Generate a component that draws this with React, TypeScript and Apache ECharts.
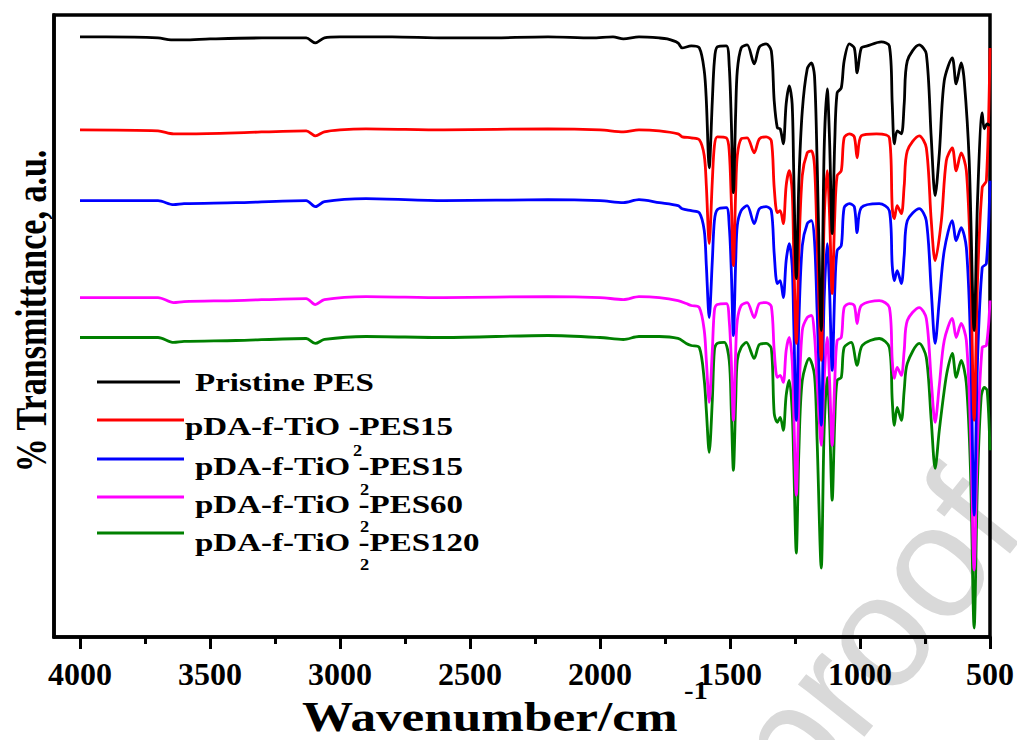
import React, { useEffect, useRef } from "react";
import * as echarts from "echarts";

// Wavenumber (cm^-1) vs % transmittance (a.u., offset-stacked spectra)
const pristinePES: [number, number][] = [
  [4000, 601], [3900, 601], [3700, 600], [3650, 598], [3600, 598], [3500, 599], [3300, 600], [3130, 600], [3095, 595], [3060, 600],
  [3000, 601], [2800, 601], [2600, 600], [2450, 600], [2200, 601], [2030, 600], [1950, 601], [1910, 599], [1850, 601], [1772, 600],
  [1741, 599], [1700, 595], [1684, 590], [1649, 592], [1618, 590], [1599, 567], [1591, 537], [1580, 470], [1568, 537], [1560, 577],
  [1549, 591], [1514, 592], [1503, 572], [1495, 517], [1487, 445], [1478, 527], [1472, 567], [1457, 590], [1434, 593], [1407, 574],
  [1387, 591], [1361, 594], [1341, 587], [1330, 537], [1318, 510], [1307, 509], [1295, 494], [1284, 534], [1272, 552], [1261, 534],
  [1255, 467], [1245, 359], [1235, 457], [1222, 527], [1203, 569], [1187, 575], [1175, 562], [1165, 477], [1149, 307], [1138, 487],
  [1126, 549], [1117, 497], [1107, 404], [1097, 497], [1088, 545], [1072, 550], [1061, 577], [1041, 594], [1022, 590], [1011, 565],
  [995, 590], [972, 592], [918, 596], [887, 592], [876, 534], [868, 494], [857, 507], [841, 504], [830, 534], [818, 577],
  [772, 593], [745, 584], [726, 500], [711, 442], [695, 484], [676, 557], [645, 580], [630, 554], [611, 575], [599, 557],
  [580, 477], [561, 307], [548, 437], [530, 525], [522, 509], [511, 514], [500, 512],
];

const pdaTiO2PES15a: [number, number][] = [
  [4000, 508], [3700, 507], [3640, 504], [3600, 504], [3400, 505], [3130, 507], [3095, 502], [3060, 506], [3000, 508], [2900, 509],
  [2600, 508], [2200, 509], [2000, 508], [1910, 506], [1850, 508], [1772, 507], [1700, 504], [1684, 501], [1649, 500], [1618, 498],
  [1599, 482], [1591, 452], [1580, 394], [1568, 457], [1560, 492], [1549, 501], [1514, 500], [1503, 487], [1495, 437], [1487, 372],
  [1478, 447], [1472, 482], [1457, 499], [1434, 500], [1407, 485], [1387, 499], [1361, 501], [1341, 497], [1330, 450], [1318, 425],
  [1307, 427], [1295, 414], [1284, 452], [1272, 467], [1261, 447], [1255, 387], [1245, 294], [1235, 387], [1222, 462], [1203, 485],
  [1187, 487], [1175, 472], [1165, 397], [1149, 277], [1138, 417], [1126, 467], [1117, 422], [1107, 344], [1097, 422], [1088, 462],
  [1072, 467], [1061, 500], [1041, 504], [1022, 501], [1011, 480], [995, 502], [937, 504], [887, 500], [876, 430], [868, 419],
  [857, 432], [841, 424], [830, 452], [818, 487], [772, 502], [745, 490], [726, 417], [711, 377], [687, 417], [668, 477],
  [645, 490], [630, 467], [611, 485], [591, 467], [575, 377], [561, 217], [548, 357], [530, 450], [514, 457], [500, 590],
];

const pdaTiO2PES15b: [number, number][] = [
  [4000, 437], [3700, 437], [3640, 433], [3600, 434], [3400, 435], [3130, 437], [3095, 431], [3060, 436], [2900, 439], [2600, 437],
  [2200, 438], [2000, 437], [1910, 435], [1850, 438], [1772, 435], [1700, 432], [1684, 429], [1649, 427], [1618, 425], [1599, 407],
  [1591, 372], [1580, 320], [1568, 377], [1560, 417], [1549, 428], [1514, 430], [1503, 412], [1495, 367], [1487, 302], [1478, 377],
  [1472, 412], [1457, 427], [1434, 432], [1407, 414], [1387, 429], [1361, 431], [1341, 427], [1330, 384], [1318, 354], [1307, 357],
  [1295, 340], [1284, 377], [1272, 394], [1261, 372], [1255, 317], [1245, 217], [1235, 317], [1222, 392], [1203, 414], [1187, 417],
  [1175, 397], [1165, 327], [1149, 212], [1138, 337], [1126, 394], [1117, 347], [1107, 267], [1097, 347], [1088, 387], [1072, 392],
  [1061, 430], [1041, 434], [1022, 431], [1011, 405], [995, 430], [926, 434], [887, 427], [876, 372], [868, 357], [857, 367],
  [841, 354], [830, 382], [818, 417], [772, 429], [745, 417], [726, 347], [711, 294], [695, 337], [676, 387], [645, 417],
  [630, 397], [611, 410], [591, 390], [575, 297], [561, 122], [548, 277], [530, 370], [514, 374], [500, 457],
];

const pdaTiO2PES60: [number, number][] = [
  [4000, 340], [3700, 340], [3640, 335], [3600, 336], [3400, 337], [3130, 339], [3095, 333], [3060, 338], [2900, 341], [2600, 340],
  [2200, 341], [2000, 340], [1910, 338], [1850, 341], [1772, 340], [1700, 337], [1668, 334], [1649, 332], [1618, 330], [1599, 307],
  [1591, 277], [1580, 235], [1568, 287], [1560, 327], [1549, 333], [1514, 334], [1503, 317], [1495, 277], [1487, 217], [1478, 287],
  [1472, 317], [1457, 332], [1434, 335], [1407, 320], [1387, 334], [1361, 335], [1341, 331], [1330, 287], [1318, 260], [1307, 262],
  [1295, 255], [1284, 287], [1272, 300], [1261, 277], [1255, 227], [1245, 142], [1235, 237], [1222, 307], [1203, 320], [1187, 322],
  [1175, 302], [1165, 257], [1149, 192], [1138, 257], [1126, 300], [1117, 257], [1107, 192], [1097, 257], [1088, 297], [1072, 300],
  [1061, 330], [1041, 334], [1022, 332], [1011, 314], [995, 332], [926, 337], [887, 330], [876, 277], [868, 259], [857, 270],
  [841, 262], [830, 287], [818, 317], [772, 330], [745, 319], [726, 257], [711, 215], [695, 252], [676, 297], [645, 319],
  [630, 300], [611, 314], [591, 297], [575, 207], [561, 67], [548, 197], [530, 290], [514, 292], [500, 337],
];

const pdaTiO2PES120: [number, number][] = [
  [4000, 300], [3700, 300], [3640, 295], [3600, 296], [3400, 297], [3130, 299], [3095, 294], [3060, 298], [2900, 301], [2600, 300],
  [2200, 302], [2000, 300], [1910, 298], [1850, 301], [1772, 301], [1700, 299], [1668, 294], [1649, 292], [1618, 290], [1599, 257],
  [1591, 227], [1580, 185], [1568, 237], [1560, 287], [1549, 294], [1522, 295], [1503, 277], [1495, 227], [1487, 167], [1478, 237],
  [1472, 277], [1457, 290], [1437, 295], [1407, 279], [1387, 293], [1361, 294], [1341, 289], [1330, 224], [1318, 215], [1307, 220],
  [1295, 207], [1284, 242], [1272, 257], [1261, 227], [1255, 177], [1245, 84], [1235, 187], [1222, 257], [1195, 279], [1175, 262],
  [1165, 197], [1149, 69], [1138, 207], [1126, 260], [1117, 217], [1107, 137], [1097, 217], [1088, 257], [1072, 260], [1061, 290],
  [1034, 295], [1011, 272], [991, 292], [926, 299], [887, 290], [876, 237], [868, 212], [857, 230], [841, 217], [830, 247],
  [818, 274], [772, 294], [745, 280], [726, 217], [711, 169], [695, 207], [676, 247], [664, 267], [645, 284], [630, 260],
  [611, 277], [591, 254], [575, 167], [561, 9], [548, 157], [534, 240], [522, 250], [511, 247], [500, 187],
];

const majorTicks = [500, 1000, 1500, 2000, 2500, 3000, 3500, 4000];
const minorTicks = [750, 1250, 1750, 2250, 2750, 3250, 3750];

const seriesNames = [
  "Pristine PES",
  "pDA-f-TiO2-PES15",
  "pDA-f-TiO2-PES15 ",
  "pDA-f-TiO2-PES60",
  "pDA-f-TiO2-PES120",
];
const seriesColors = ["#000000", "#ff0000", "#0000ff", "#ff00ff", "#008000"];
const seriesData = [pristinePES, pdaTiO2PES15a, pdaTiO2PES15b, pdaTiO2PES60, pdaTiO2PES120];

const SERIF = "Liberation Serif, Times New Roman, serif";
const SANS = "Liberation Sans, Arial, sans-serif";

export default function App() {
  const ref = useRef<HTMLDivElement>(null);

  useEffect(() => {
    if (!ref.current) return;
    const chart = echarts.init(ref.current, undefined, { renderer: "svg" });

    const series = seriesData.map((d, i) => ({
      name: seriesNames[i],
      type: "line",
      data: d,
      xAxisIndex: 0,
      symbol: "none",
      smooth: 0.3,
      silent: true,
      z: 10 - i,
      lineStyle: { color: seriesColors[i], width: 2.8 },
      itemStyle: { color: seriesColors[i] },
    }));

    const legendYs = [382, 420, 459, 497, 533];
    const legendTextYs = [382, 426, 466, 504, 542];
    const legendTextX = [195, 185, 195, 195, 195];
    const legendLabels = ["Pristine PES", "pDA-f-TiO -PES15", "pDA-f-TiO -PES15", "pDA-f-TiO -PES60", "pDA-f-TiO -PES120"];
    const subYs = [0, 451, 490, 527, 565];
    const subXs = [0, 353, 360, 360, 360];

    const graphic: any[] = [
      {
        type: "text",
        z: -10,
        x: 872,
        y: 638,
        rotation: 0.9,
        silent: true,
        style: {
          text: "proof",
          fill: "#d9d9d9",
          fontSize: 160,
          fontFamily: SANS,
          textAlign: "center",
          textVerticalAlign: "middle",
        },
      },
      {
        type: "text",
        x: 31,
        y: 311,
        rotation: Math.PI / 2,
        scaleY: 1.3,
        style: {
          text: "% Transmittance, a.u.",
          fill: "#000",
          fontSize: 34,
          fontWeight: "bold",
          fontFamily: SERIF,
          textAlign: "center",
          textVerticalAlign: "middle",
        },
      },
      {
        type: "text",
        x: 302,
        y: 717,
        scaleX: 1.22,
        style: {
          text: "Wavenumber/cm",
          fill: "#000",
          fontSize: 42,
          fontWeight: "bold",
          fontFamily: SERIF,
          textAlign: "left",
          textVerticalAlign: "middle",
        },
      },
      {
        type: "text",
        x: 684,
        y: 691,
        scaleX: 1.15,
        style: {
          text: "-1",
          fill: "#000",
          fontSize: 25,
          fontWeight: "bold",
          fontFamily: SERIF,
          textAlign: "left",
          textVerticalAlign: "middle",
        },
      },
    ];

    legendLabels.forEach((lab, i) => {
      graphic.push({
        type: "line",
        shape: { x1: 97, y1: legendYs[i], x2: i === 0 ? 180 : 184, y2: legendYs[i] },
        style: { stroke: seriesColors[i], lineWidth: 3 },
      });
      graphic.push({
        type: "text",
        x: legendTextX[i],
        y: legendTextYs[i],
        scaleX: 1.27,
        style: {
          text: lab,
          fill: "#000",
          fontSize: 26,
          fontWeight: "bold",
          fontFamily: SERIF,
          textAlign: "left",
          textVerticalAlign: "middle",
        },
      });
      if (i > 0) {
        graphic.push({
          type: "text",
          x: subXs[i],
          y: subYs[i],
          scaleX: 1.15,
          style: {
            text: "2",
            fill: "#000",
            fontSize: 16,
            fontWeight: "bold",
            fontFamily: SERIF,
            textAlign: "left",
            textVerticalAlign: "middle",
          },
        });
      }
    });

    chart.setOption({
      animation: false,
      backgroundColor: "#ffffff",
      grid: {
        left: 54,
        right: 26,
        top: 15,
        bottom: 103,
        show: true,
        borderColor: "#000",
        borderWidth: 3.5,
        backgroundColor: "transparent",
      },
      xAxis: [
        {
          type: "value",
          min: 500,
          max: 4100,
          inverse: true,
          position: "bottom",
          axisLine: { show: true, onZero: false, lineStyle: { color: "#000", width: 3.5 } },
          axisTick: { show: true, customValues: majorTicks, length: 12, lineStyle: { color: "#000", width: 3 } },
          axisLabel: {
            customValues: majorTicks,
            formatter: (v: number) => String(v),
            fontSize: 32,
            fontWeight: "bold",
            fontFamily: SERIF,
            color: "#000",
            margin: 21,
          },
          splitLine: { show: false },
        },
        {
          type: "value",
          min: 500,
          max: 4100,
          inverse: true,
          position: "bottom",
          axisLine: { show: false, onZero: false },
          axisTick: { show: true, customValues: minorTicks, length: 7, lineStyle: { color: "#000", width: 3 } },
          axisLabel: { show: false },
          splitLine: { show: false },
        },
      ],
      yAxis: {
        type: "value",
        min: 0,
        max: 623,
        axisLine: { show: true, lineStyle: { color: "#000", width: 3.5 } },
        axisTick: { show: false },
        axisLabel: { show: false },
        splitLine: { show: false },
      },
      series,
      graphic,
    });

    return () => chart.dispose();
  }, []);

  return (
    <div
      ref={ref}
      style={{ position: "fixed", left: 0, top: 0, width: 1017, height: 740, background: "#fff" }}
    />
  );
}
